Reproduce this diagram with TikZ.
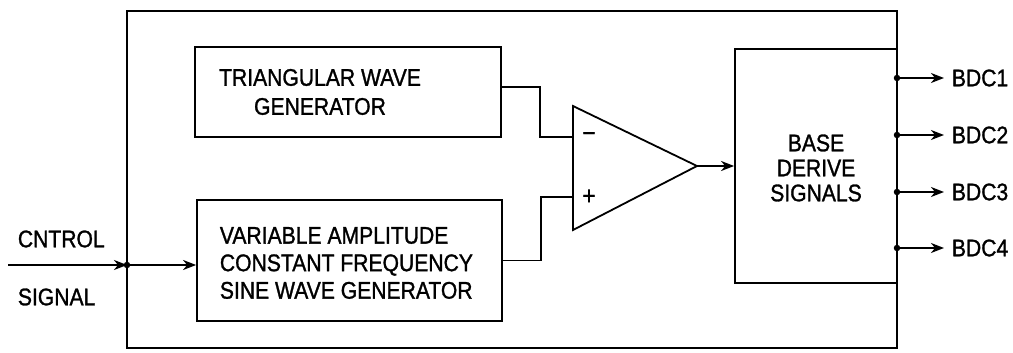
\documentclass[tikz,border=0pt]{standalone}
\usepackage{fontspec}
\setmainfont{Liberation Sans}[FakeStretch=0.88,FakeBold=1.2]
\usetikzlibrary{arrows.meta,calc}
\begin{document}
\begin{tikzpicture}[x=1pt,y=-1pt,
  line width=1.8pt,
  txt/.style={font={\fontsize{24}{27.5}\selectfont}, inner sep=0pt},
  blk/.style={draw, inner sep=0pt},
  arr/.style={-{Stealth[length=13pt,width=10pt,inset=4pt]}},
  dot/.style={circle, fill, inner sep=0pt, minimum size=6.5pt}]
\useasboundingbox (0,0) rectangle (1013,353);
% outer frame
\node[blk, minimum width=770pt, minimum height=337pt] (frame) at (512,179.5) {};
% blocks
\node[blk, minimum width=306pt, minimum height=90pt] (tri) at (348,92) {};
\node[txt, align=center] (tritxt) at (320,92) {TRIANGULAR WAVE\\[1.5pt]GENERATOR};
\node[blk, minimum width=305pt, minimum height=121pt] (sine) at (349.5,260.5) {};
\node[txt, align=left, anchor=west] (sinetxt) at (219,263) {VARIABLE AMPLITUDE\\CONSTANT FREQUENCY\\SINE WAVE GENERATOR};
\node[blk, minimum width=162pt, minimum height=234pt] (bds) at (816,166) {};
\node[txt, align=center, font={\fontsize{24}{25}\selectfont}] (bdstxt) at (816,168) {BASE\\DERIVE\\SIGNALS};
% comparator
\coordinate (oatop) at (573,106);
\coordinate (oabot) at (573,230);
\coordinate (oaout) at (697,166);
\draw[line join=miter] (oatop) -- (oaout) -- (oabot) -- cycle;
\coordinate (inm) at (573,137);
\coordinate (inp) at (573,197);
\coordinate (jm) at (540,137);
\coordinate (jp) at (541,197);
\node[font={\fontsize{26}{26}\selectfont}, inner sep=0pt] (minus) at (589,137) {−};
\node[font={\fontsize{26}{26}\selectfont}, inner sep=0pt] (plus) at (589,197) {+};
% connectors
\draw ([yshift=5pt]tri.east) -| (jm) -- (inm);
\draw (sine.east) -| (jp) -- (inp);
\draw[arr] (oaout) -- (bds.west);
% input
\coordinate (src) at (8,265);
\node[dot] (jin) at (127,265) {};
\draw[arr] (src) -- (jin.center);
\draw[arr] (jin.center) -- (sine.west |- jin);
\node[txt, anchor=west] (cntrl) at (17,239) {CNTROL};
\node[txt, anchor=west] (sig) at (17,297) {SIGNAL};
% outputs
\foreach \i/\y in {1/78,2/135,3/192,4/248}{
  \node[dot] (o\i) at (897,\y) {};
  \coordinate (e\i) at (944,\y);
  \draw[arr] (o\i.center) -- (e\i);
  \node[txt, anchor=west] (l\i) at (951,\y) {BDC\i};
}
\end{tikzpicture}
\end{document}
